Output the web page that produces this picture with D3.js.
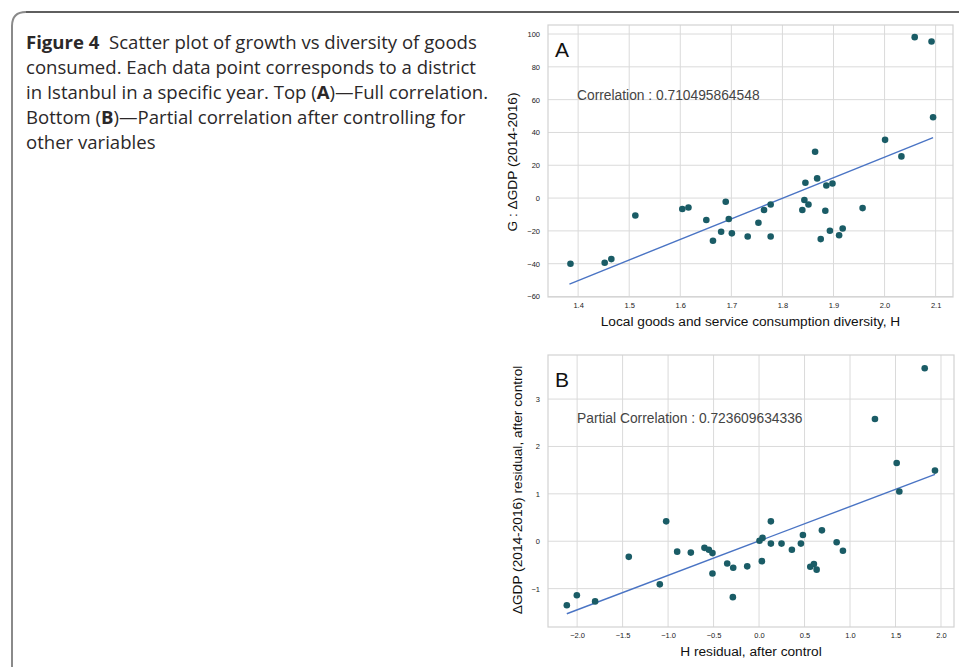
<!DOCTYPE html>
<html lang="en">
<head>
  <meta charset="UTF-8">
  <title>Figure 4</title>
  <style>
    html, body {
      background: #fff;
      margin: 0px;
      width: 100%;
      height: 100%;
      overflow: hidden;
    }
    #container {
      position: absolute;
      left: 0px; top: 0px;
      width: 959px; height: 667px;
    }
    .tick text { font-family: "Liberation Sans", Arial, sans-serif; font-size: 7.5px; fill: #222; }
  </style>
</head>
<body>
<div id="container"></div>
<script src="https://cdnjs.cloudflare.com/ajax/libs/d3/7.8.5/d3.min.js"></script>
<script>
  // panel A: full correlation
  var hA = [1.385, 1.452, 1.465, 1.512, 1.604, 1.616, 1.651, 1.664, 1.680, 1.689, 1.695, 1.701,
            1.732, 1.753, 1.764, 1.777, 1.777, 1.839, 1.843, 1.845, 1.851, 1.864, 1.868, 1.875,
            1.884, 1.886, 1.893, 1.898, 1.911, 1.918, 1.957, 2.001, 2.033, 2.059, 2.092, 2.095];
  var gA = [-40.0, -39.4, -37.2, -10.6, -6.7, -5.7, -13.4, -26.0, -20.5, -2.2, -12.8, -21.5,
            -23.4, -15.0, -7.3, -3.9, -23.4, -7.3, -1.2, 9.3, -3.9, 28.2, 12.0, -25.0,
            -7.7, 7.7, -19.9, 8.9, -22.7, -18.5, -6.1, 35.5, 25.4, 98.1, 95.4, 49.3];
  var fitA = [[1.383, -52.4], [2.095, 36.9]];
  var ticksXA = [1.4, 1.5, 1.6, 1.7, 1.8, 1.9, 2.0, 2.1];
  var ticksYA = [-60, -40, -20, 0, 20, 40, 60, 80, 100];

  // panel B: partial correlation (residuals)
  var hB = [-2.113, -2.003, -1.802, -1.432, -1.091, -1.021, -0.900, -0.750, -0.600, -0.552, -0.512, -0.512,
            -0.350, -0.284, -0.288, -0.130, 0.005, 0.038, 0.031, 0.130, 0.130, 0.247, 0.361, 0.460,
            0.482, 0.563, 0.603, 0.633, 0.691, 0.853, 0.922, 1.274, 1.513, 1.542, 1.821, 1.934];
  var gB = [-1.35, -1.14, -1.27, -0.33, -0.91, 0.42, -0.22, -0.24, -0.14, -0.18, -0.25, -0.68,
            -0.47, -0.56, -1.18, -0.53, 0.01, 0.07, -0.42, 0.42, -0.05, -0.05, -0.18, -0.05,
            0.13, -0.54, -0.48, -0.60, 0.23, -0.02, -0.20, 2.58, 1.65, 1.05, 3.65, 1.49];
  var fitB = [[-2.113, -1.53], [1.934, 1.41]];
  var ticksXB = [-2.0, -1.5, -1.0, -0.5, 0.0, 0.5, 1.0, 1.5, 2.0];
  var ticksYB = [-1, 0, 1, 2, 3];

  var captionLines = [
    [["Figure 4", true], ["  Scatter plot of growth vs diversity of goods", false]],
    [["consumed. Each data point corresponds to a district", false]],
    [["in Istanbul in a specific year. Top (", false], ["A", true], [")\u2014Full correlation.", false]],
    [["Bottom (", false], ["B", true], [")\u2014Partial correlation after controlling for", false]],
    [["other variables", false]]
  ];

  var svg = d3.select('#container').append('svg')
    .attr('width', 959)
    .attr('height', 667);

  // frame
  svg.append('path')
    .attr('d', 'M12,667 L12,26 Q12,12 26,12')
    .attr('fill', 'none')
    .attr('stroke', '#8a8a8a')
    .attr('stroke-width', 2);
  svg.append('path')
    .attr('d', 'M26,12 L959,12')
    .attr('fill', 'none')
    .attr('stroke', '#2a2a2a')
    .attr('stroke-width', 1.5);

  // caption, sized so the first line runs to about x=477
  var capSize = 16;
  var cap = svg.append('text')
    .attr('font-family', '"Open Sans", "Noto Sans", sans-serif')
    .attr('font-size', capSize)
    .attr('fill', '#2b2829');
  captionLines.forEach(function(line, i) {
    line.forEach(function(part, j) {
      var t = cap.append('tspan').text(part[0]).attr('xml:space', 'preserve');
      if (j == 0) t.attr('x', 26).attr('y', 48.5 + i * 25);
      if (part[1]) t.attr('font-weight', 'bold');
    });
  });
  var firstLen = 0;
  cap.selectAll('tspan').each(function(d, i) {
    if (i < 2) firstLen += this.getComputedTextLength();
  });
  if (firstLen > 0) cap.attr('font-size', capSize * 451 / firstLen);

  function panel(cfg) {
    var x = d3.scaleLinear().domain(cfg.xDomain).range([cfg.left, cfg.right]);
    var y = d3.scaleLinear().domain(cfg.yDomain).range([cfg.bottom, cfg.top]);
    var g = svg.append('g');

    // grid
    g.selectAll('line.gx').data(cfg.ticksX).enter().append('line')
      .attr('x1', d => x(d)).attr('x2', d => x(d))
      .attr('y1', cfg.top).attr('y2', cfg.bottom)
      .attr('stroke', '#dadada').attr('stroke-width', 1);
    g.selectAll('line.gy').data(cfg.ticksY).enter().append('line')
      .attr('y1', d => y(d)).attr('y2', d => y(d))
      .attr('x1', cfg.left).attr('x2', cfg.right)
      .attr('stroke', '#dadada').attr('stroke-width', 1);
    g.append('rect')
      .attr('x', cfg.left).attr('y', cfg.top)
      .attr('width', cfg.right - cfg.left).attr('height', cfg.bottom - cfg.top)
      .attr('fill', 'none').attr('stroke', '#d2d2d2').attr('stroke-width', 1.2);

    // axes (labels only)
    var xAxis = d3.axisBottom(x).tickValues(cfg.ticksX).tickFormat(d3.format('.1f')).tickSize(0).tickPadding(6);
    g.append('g').attr('transform', 'translate(0,' + cfg.bottom + ')').call(xAxis)
      .call(s => s.select('.domain').remove());
    var yAxis = d3.axisLeft(y).tickValues(cfg.ticksY).tickFormat(d3.format('d')).tickSize(0).tickPadding(8);
    g.append('g').attr('transform', 'translate(' + cfg.left + ',0)').call(yAxis)
      .call(s => s.select('.domain').remove())
      .selectAll('text').attr('dy', '0.32em');

    // regression line
    g.append('line')
      .attr('x1', x(cfg.fit[0][0])).attr('y1', y(cfg.fit[0][1]))
      .attr('x2', x(cfg.fit[1][0])).attr('y2', y(cfg.fit[1][1]))
      .attr('stroke', '#4a74c4').attr('stroke-width', 1.4);

    // points
    g.selectAll('circle').data(cfg.xs).enter().append('circle')
      .attr('cx', d => x(d))
      .attr('cy', (d, i) => y(cfg.ys[i]))
      .attr('r', 3.3)
      .attr('fill', '#1a5c66');

    // panel letter
    g.append('text')
      .attr('x', cfg.left + 7).attr('y', cfg.top + 32)
      .attr('font-family', '"Liberation Sans", Arial, sans-serif')
      .attr('font-size', 21).attr('fill', '#111')
      .text(cfg.letter);

    // annotation
    g.append('text')
      .attr('x', cfg.left + 29).attr('y', cfg.annoY)
      .attr('font-family', '"Liberation Sans", Arial, sans-serif')
      .attr('font-size', 13.8).attr('fill', '#444')
      .text(cfg.anno);

    // axis labels
    g.append('text')
      .attr('x', (cfg.left + cfg.right) / 2).attr('y', cfg.bottom + 29)
      .attr('text-anchor', 'middle')
      .attr('font-family', '"Liberation Sans", Arial, sans-serif')
      .attr('font-size', 13.7).attr('fill', '#111')
      .text(cfg.xLabel);
    g.append('text')
      .attr('transform', 'translate(' + cfg.yLabelX + ',' + cfg.yLabelY + ') rotate(-90)')
      .attr('text-anchor', 'middle')
      .attr('font-family', '"Liberation Sans", Arial, sans-serif')
      .attr('font-size', 13.7).attr('fill', '#111')
      .text(cfg.yLabel);
  }

  panel({
    xs: hA, ys: gA, fit: fitA, ticksX: ticksXA, ticksY: ticksYA,
    xDomain: [1.341, 2.134], yDomain: [-60.3, 105.5],
    left: 548, right: 953, top: 25, bottom: 297,
    letter: 'A', anno: 'Correlation : 0.710495864548', annoY: 100,
    xLabel: 'Local goods and service consumption diversity, H',
    yLabel: 'G : \u0394GDP (2014-2016)', yLabelX: 517, yLabelY: 162
  });

  panel({
    xs: hB, ys: gB, fit: fitB, ticksX: ticksXB, ticksY: ticksYB,
    xDomain: [-2.32, 2.143], yDomain: [-1.81, 3.93],
    left: 548, right: 954, top: 355, bottom: 627,
    letter: 'B', anno: 'Partial Correlation : 0.723609634336', annoY: 423,
    xLabel: 'H residual, after control',
    yLabel: '\u0394GDP (2014-2016) residual, after control', yLabelX: 522, yLabelY: 490
  });
</script>
</body>
</html>
